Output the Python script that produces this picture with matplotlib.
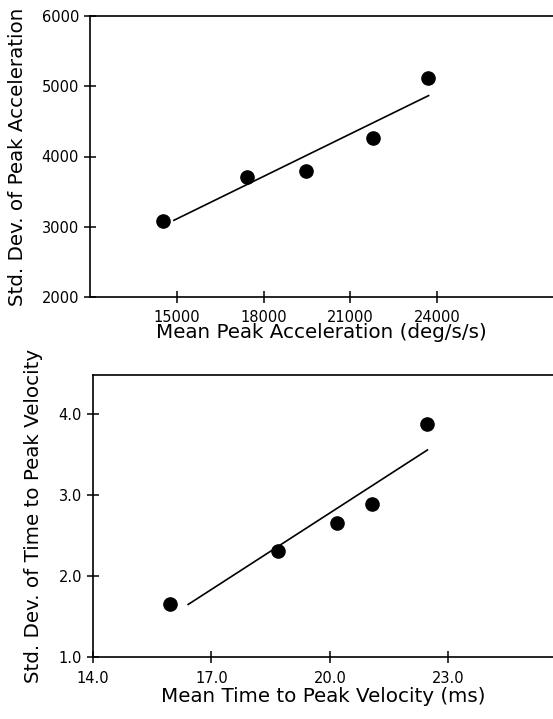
import matplotlib
matplotlib.use("Agg")
import matplotlib.pyplot as plt
import numpy as np

# top panel: peak acceleration
acc_mean = [14520, 17440, 19480, 21770, 23670]
acc_sd = [3086, 3713, 3798, 4259, 5117]
acc_fit_x = [14900, 23700]
acc_xticks = [15000, 18000, 21000, 24000]
acc_yticks = [2000, 3000, 4000, 5000, 6000]

# bottom panel: time to peak velocity
tpv_mean = [15.96, 18.68, 20.18, 21.07, 22.46]
tpv_sd = [1.65, 2.31, 2.65, 2.89, 3.87]
tpv_fit_x = [16.41, 22.47]
tpv_xticks = [14.0, 17.0, 20.0, 23.0]
tpv_yticks = [1.0, 2.0, 3.0, 4.0]

plt.rcParams['font.family'] = ['DejaVu Sans']

fig = plt.figure(figsize=(5.53, 7.19), dpi=100)
W, H = 553, 719

def px_axes(l, t, r, b):
    return fig.add_axes([l/W, 1-b/H, (r-l)/W, (b-t)/H])

def style(ax):
    ax.spines['right'].set_visible(False)
    for s in ['left', 'top', 'bottom']:
        ax.spines[s].set_linewidth(1.2)
    ax.tick_params(direction='inout', length=8, width=1.1, labelsize=10.5,
                   colors='black', pad=4)

ax1 = px_axes(90, 16, 553, 297)
ax1.plot(acc_mean, acc_sd, 'o', color='black', markersize=9.5)
k, c = np.polyfit(acc_mean, acc_sd, 1)
fx = np.array(acc_fit_x)
ax1.plot(fx, k*fx + c, color='black', lw=1.2)
ax1.set_xlim(12000, 28000)
ax1.set_ylim(2000, 6000)
ax1.set_xticks(acc_xticks)
ax1.set_yticks(acc_yticks)
style(ax1)
ax1.tick_params(axis='x', pad=5)
ax1.set_xlabel('Mean Peak Acceleration (deg/s/s)', fontsize=14.3, labelpad=-1)
ax1.set_ylabel('Std. Dev. of Peak Acceleration', fontsize=14.3, labelpad=10)

ax2 = px_axes(93, 375, 553, 657)
ax2.plot(tpv_mean, tpv_sd, 'o', color='black', markersize=9.5)
k2, c2 = np.polyfit(tpv_mean, tpv_sd, 1)
fx2 = np.array(tpv_fit_x)
ax2.plot(fx2, k2*fx2 + c2, color='black', lw=1.2)
ax2.set_xlim(14.0, 25.65)
ax2.set_ylim(1.0, 4.48)
ax2.set_xticks(tpv_xticks)
ax2.set_xticklabels([f'{v:.1f}' for v in tpv_xticks])
ax2.set_yticks(tpv_yticks)
ax2.set_yticklabels([f'{v:.1f}' for v in tpv_yticks])
style(ax2)
ax2.tick_params(axis='x', pad=6)
ax2.set_xlabel('Mean Time to Peak Velocity (ms)', fontsize=14.3, labelpad=1)
ax2.set_ylabel('Std. Dev. of Time to Peak Velocity', fontsize=14.3, labelpad=11)

fig.savefig('out.png', dpi=100)
